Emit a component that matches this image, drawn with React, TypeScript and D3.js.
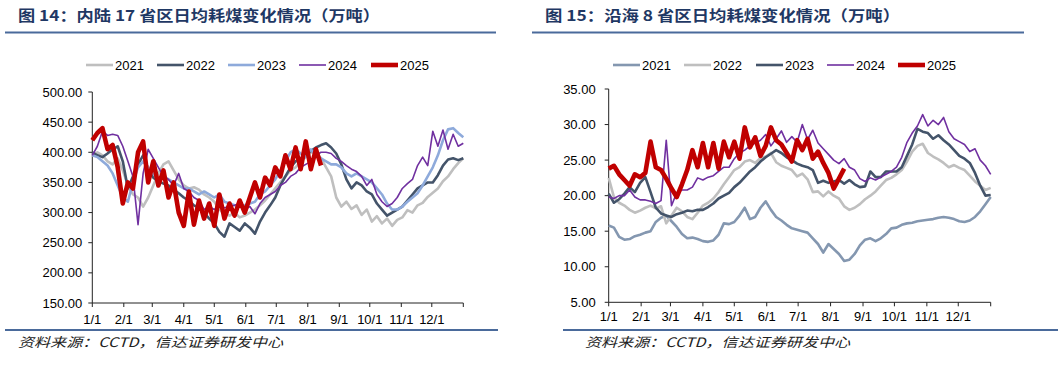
import React from "react";
import * as d3 from "d3";

// 每 5 天取一个读数（第 0 天 = 1/1）
const STEP = 5;

const monthTicks = [0, 31, 59, 90, 120, 151, 181, 212, 243, 273, 304, 334, 365];
const monthLabels = ["1/1", "2/1", "3/1", "4/1", "5/1", "6/1", "7/1", "8/1", "9/1", "10/1", "11/1", "12/1"];

// 图14 内陆17省
const inlandTicks = [150, 200, 250, 300, 350, 400, 450, 500];
const inland2021 = [395, 400, 395, 385, 380, 390, 370, 345, 330, 325, 310, 325, 345, 365, 380, 385, 370, 355, 345, 340, 342, 338, 330, 325, 318, 305, 298, 295, 300, 292, 295, 300, 305, 312, 320, 330, 340, 350, 360, 370, 375, 385, 392, 400, 398, 390, 375, 360, 325, 310, 318, 306, 312, 296, 305, 285, 294, 282, 290, 278, 288, 292, 304, 300, 312, 316, 326, 333, 340, 352, 360, 372, 382, 390];
const inland2022 = [400, 395, 392, 398, 405, 410, 385, 340, 360, 380, 395, 372, 358, 352, 348, 345, 338, 332, 325, 320, 312, 308, 300, 290, 282, 268, 260, 282, 276, 270, 282, 275, 265, 285, 300, 312, 325, 345, 360, 375, 385, 390, 395, 402, 408, 412, 415, 408, 398, 380, 355, 340, 350, 345, 335, 330, 315, 305, 295, 300, 305, 310, 320, 330, 340, 345, 350, 350, 362, 378, 388, 390, 387, 390];
const inland2023 = [395, 392, 385, 378, 365, 345, 325, 318, 350, 375, 385, 375, 365, 352, 360, 355, 350, 345, 340, 340, 335, 330, 335, 330, 325, 330, 318, 315, 312, 310, 312, 315, 318, 330, 335, 345, 355, 370, 385, 400, 405, 398, 392, 405, 395, 390, 385, 380, 380, 375, 365, 360, 365, 360, 355, 350, 340, 330, 315, 305, 305, 310, 318, 325, 332, 345, 360, 375, 395, 420, 438, 440, 432, 425];
const inland2024 = [395, 410, 435, 428, 430, 428, 410, 385, 360, 280, 365, 405, 390, 375, 360, 355, 345, 365, 340, 335, 325, 320, 305, 310, 305, 312, 308, 310, 312, 315, 305, 310, 298, 315, 325, 330, 335, 345, 350, 360, 365, 375, 380, 385, 395, 400, 400, 398, 390, 385, 378, 372, 368, 360, 345, 355, 330, 318, 310, 315, 325, 340, 348, 355, 378, 392, 378, 435, 410, 437, 405, 430, 410, 415];
const inland2025 = [420, 432, 440, 405, 412, 375, 315, 350, 340, 400, 418, 350, 385, 345, 370, 325, 350, 300, 278, 335, 280, 320, 290, 315, 278, 330, 290, 315, 295, 320, 300, 325, 350, 325, 358, 345, 375, 360, 395, 372, 408, 372, 418, 372, 405, 378];

// 图15 沿海8省
const coastTicks = [5, 10, 15, 20, 25, 30, 35];
const coast2021 = [15.8, 15.5, 14.2, 13.8, 13.9, 14.3, 14.5, 14.8, 15.0, 16.3, 16.9, 17.2, 16.4, 15.6, 14.6, 14.0, 14.1, 13.9, 13.6, 13.5, 13.7, 14.5, 16.1, 16.0, 16.3, 17.2, 18.3, 16.7, 17.0, 18.3, 19.2, 18.0, 17.0, 16.5, 15.9, 15.4, 15.2, 15.0, 14.8, 14.0, 13.2, 12.0, 13.2, 12.5, 11.8, 10.8, 11.0, 11.8, 13.0, 13.8, 14.0, 13.6, 14.0, 14.6, 15.4, 15.5, 15.9, 16.1, 16.2, 16.4, 16.5, 16.6, 16.7, 16.9, 17.0, 16.9, 16.7, 16.4, 16.3, 16.5, 17.0, 17.8, 18.8, 19.8];
const coast2022 = [22.5, 19.8, 19.0, 18.6, 18.0, 17.6, 17.9, 18.3, 18.6, 18.2, 18.5, 16.1, 17.2, 18.3, 17.8, 17.0, 16.7, 17.6, 18.6, 19.0, 19.6, 20.5, 21.6, 22.6, 23.6, 24.0, 24.8, 25.0, 24.6, 25.3, 25.5, 26.0, 24.7, 24.2, 23.9, 23.6, 22.7, 23.1, 22.3, 20.5, 20.6, 19.9, 20.6, 20.0, 19.6, 18.5, 18.0, 18.3, 18.8, 19.5, 20.0, 20.6, 21.4, 22.2, 22.5, 23.0, 23.6, 24.8, 26.2, 27.0, 27.3, 26.0, 25.5, 25.1, 24.6, 24.0, 24.3, 23.9, 23.6, 22.8, 22.0, 21.4, 20.8, 21.1];
const coast2023 = [20.3, 19.0, 19.5, 20.3, 21.2, 20.5, 21.8, 22.6, 20.5, 18.3, 17.5, 17.2, 17.0, 17.4, 17.6, 17.9, 17.8, 18.0, 18.0, 18.4, 18.9, 19.6, 20.0, 20.4, 21.2, 21.8, 22.6, 23.4, 24.0, 24.8, 25.4, 25.9, 26.4, 26.0, 25.4, 25.0, 24.5, 24.2, 24.0, 23.6, 21.8, 22.1, 21.8, 22.0, 22.2, 21.7, 22.2, 21.6, 21.2, 21.3, 23.4, 22.6, 22.6, 23.4, 23.4, 23.4, 24.0, 25.6, 27.2, 29.4, 29.0, 28.8, 28.0, 28.5, 27.8, 27.2, 26.4, 25.6, 25.2, 24.6, 23.2, 21.4, 20.0, 20.1];
const coast2024 = [19.8, 19.6, 20.0, 20.0, 20.8, 19.8, 19.4, 19.4, 19.2, 18.9, 19.3, 27.8, 18.6, 20.4, 20.8, 20.8, 21.2, 22.5, 22.2, 22.6, 22.8, 23.4, 24.0, 24.0, 25.2, 26.0, 26.4, 27.0, 27.4, 27.8, 28.6, 27.0, 28.0, 29.1, 27.5, 28.3, 27.5, 30.0, 27.9, 29.2, 27.4, 26.6, 25.8, 25.0, 24.5, 25.2, 24.0, 23.6, 22.4, 22.0, 22.5, 22.2, 22.6, 23.0, 23.4, 24.0, 25.4, 27.5, 28.8, 29.8, 31.4, 29.8, 30.6, 30.0, 31.0, 29.0, 28.0, 27.6, 27.2, 26.2, 26.6, 25.0, 24.2, 23.0];
const coast2025 = [23.8, 24.2, 23.0, 22.2, 21.4, 23.0, 22.6, 23.2, 27.6, 24.0, 23.6, 22.4, 21.0, 19.8, 21.6, 23.6, 26.4, 24.0, 27.4, 24.0, 27.4, 23.8, 27.6, 25.4, 27.6, 25.2, 29.6, 26.8, 28.2, 25.6, 27.0, 29.6, 27.8, 27.2, 26.0, 24.8, 27.8, 26.4, 28.0, 25.2, 26.2, 24.6, 23.2, 21.0, 22.4, 23.8];

const years = ["2021", "2022", "2023", "2024", "2025"];

type Style = { color: string; width: number };

const inlandStyles: Style[] = [
  { color: "#bfbfbf", width: 2.6 },
  { color: "#44546a", width: 2.6 },
  { color: "#8eaadb", width: 2.6 },
  { color: "#7030a0", width: 1.6 },
  { color: "#c00000", width: 4.6 },
];
const coastStyles: Style[] = [
  { color: "#8497b0", width: 2.6 },
  { color: "#bfbfbf", width: 2.6 },
  { color: "#44546a", width: 2.6 },
  { color: "#7030a0", width: 1.6 },
  { color: "#c00000", width: 4.6 },
];

const RULE = "#4a6a9b";
const TITLE = "#1f3864";

type PanelProps = {
  title: string;
  titleX: number;
  titleW: number;
  ruleX: [number, number];
  bottomRuleX: [number, number];
  sourceX: number;
  plot: { left: number; right: number; top: number; bottom: number };
  yDomain: [number, number];
  yTicks: number[];
  labelGap: number;
  xLabelY: number;
  series: number[][];
  styles: Style[];
  legendX: number[];
};

function Panel(p: PanelProps) {
  const x = d3.scaleLinear().domain([0, 365]).range([p.plot.left, p.plot.right]);
  const y = d3.scaleLinear().domain(p.yDomain).range([p.plot.bottom, p.plot.top]);
  const line = d3
    .line<number>()
    .x((_, i) => x(Math.min(i * STEP, 365)))
    .y((d) => y(d));

  return (
    <g>
      <text
        x={p.titleX}
        y={21}
        fontFamily="'Noto Sans CJK SC', sans-serif"
        fontWeight="bold"
        fontSize={15}
        fill={TITLE}
        textLength={p.titleW}
        lengthAdjust="spacingAndGlyphs"
      >
        {p.title}
      </text>
      <line x1={p.ruleX[0]} x2={p.ruleX[1]} y1={32.5} y2={32.5} stroke={RULE} strokeWidth={2} />

      {/* legend */}
      {years.map((yr, i) => (
        <g key={yr}>
          <line
            x1={p.legendX[i]}
            x2={p.legendX[i] + 27}
            y1={65}
            y2={65}
            stroke={p.styles[i].color}
            strokeWidth={p.styles[i].width}
          />
          <text
            x={p.legendX[i] + 29}
            y={69.5}
            fontFamily="'Liberation Sans', Arial, sans-serif"
            fontSize={13}
            fill="#000"
          >
            {yr}
          </text>
        </g>
      ))}

      {/* y axis */}
      <line x1={p.plot.left} x2={p.plot.left} y1={p.plot.top} y2={p.plot.bottom} stroke="#222" />
      {p.yTicks.map((t) => (
        <g key={t}>
          <line x1={p.plot.left - 4} x2={p.plot.left} y1={y(t)} y2={y(t)} stroke="#222" />
          <text
            x={p.plot.left - p.labelGap}
            y={y(t) + 4.5}
            textAnchor="end"
            fontFamily="'Liberation Sans', Arial, sans-serif"
            fontSize={13}
            fill="#000"
          >
            {t.toFixed(2)}
          </text>
        </g>
      ))}

      {/* x axis */}
      <line x1={p.plot.left} x2={p.plot.right} y1={p.plot.bottom} y2={p.plot.bottom} stroke="#222" />
      {monthTicks.map((d) => (
        <line key={d} x1={x(d)} x2={x(d)} y1={p.plot.bottom} y2={p.plot.bottom + 4} stroke="#222" />
      ))}
      {monthLabels.map((lab, i) => (
        <text
          key={lab}
          x={x(monthTicks[i])}
          y={p.xLabelY}
          textAnchor="middle"
          fontFamily="'Liberation Sans', Arial, sans-serif"
          fontSize={13}
          fill="#000"
        >
          {lab}
        </text>
      ))}

      {/* series */}
      {p.series.map((s, i) => (
        <path
          key={i}
          d={line(s) || ""}
          fill="none"
          stroke={p.styles[i].color}
          strokeWidth={p.styles[i].width}
          strokeLinejoin="round"
        />
      ))}

      <line x1={p.bottomRuleX[0]} x2={p.bottomRuleX[1]} y1={330} y2={330} stroke={RULE} strokeWidth={2} />
      <text
        x={p.sourceX}
        y={347}
        fontFamily="'Noto Sans CJK SC', sans-serif"
        fontStyle="italic"
        fontSize={13}
        fill="#222"
        textLength={265}
        lengthAdjust="spacingAndGlyphs"
      >
        资料来源：CCTD，信达证券研发中心
      </text>
    </g>
  );
}

export default function App() {
  return (
    <svg
      width={1064}
      height={366}
      style={{ position: "absolute", left: 0, top: 0, background: "#fff" }}
    >
      <Panel
        title="图 14：内陆 17 省区日均耗煤变化情况（万吨）"
        titleX={18}
        titleW={362}
        ruleX={[5, 496]}
        bottomRuleX={[5, 498]}
        sourceX={18}
        plot={{ left: 92.3, right: 463.3, top: 92, bottom: 303 }}
        yDomain={[150, 500]}
        yTicks={inlandTicks}
        labelGap={10}
        xLabelY={323.5}
        series={[inland2021, inland2022, inland2023, inland2024, inland2025]}
        styles={inlandStyles}
        legendX={[86, 157, 228, 299, 371]}
      />
      <Panel
        title="图 15：沿海 8 省区日均耗煤变化情况（万吨）"
        titleX={545}
        titleW={355}
        ruleX={[532, 1024]}
        bottomRuleX={[563, 1058]}
        sourceX={585}
        plot={{ left: 608.7, right: 990.7, top: 89, bottom: 302.3 }}
        yDomain={[5, 35]}
        yTicks={coastTicks}
        labelGap={13}
        xLabelY={321}
        series={[coast2021, coast2022, coast2023, coast2024, coast2025]}
        styles={coastStyles}
        legendX={[613, 684, 756, 827, 898]}
      />
    </svg>
  );
}
